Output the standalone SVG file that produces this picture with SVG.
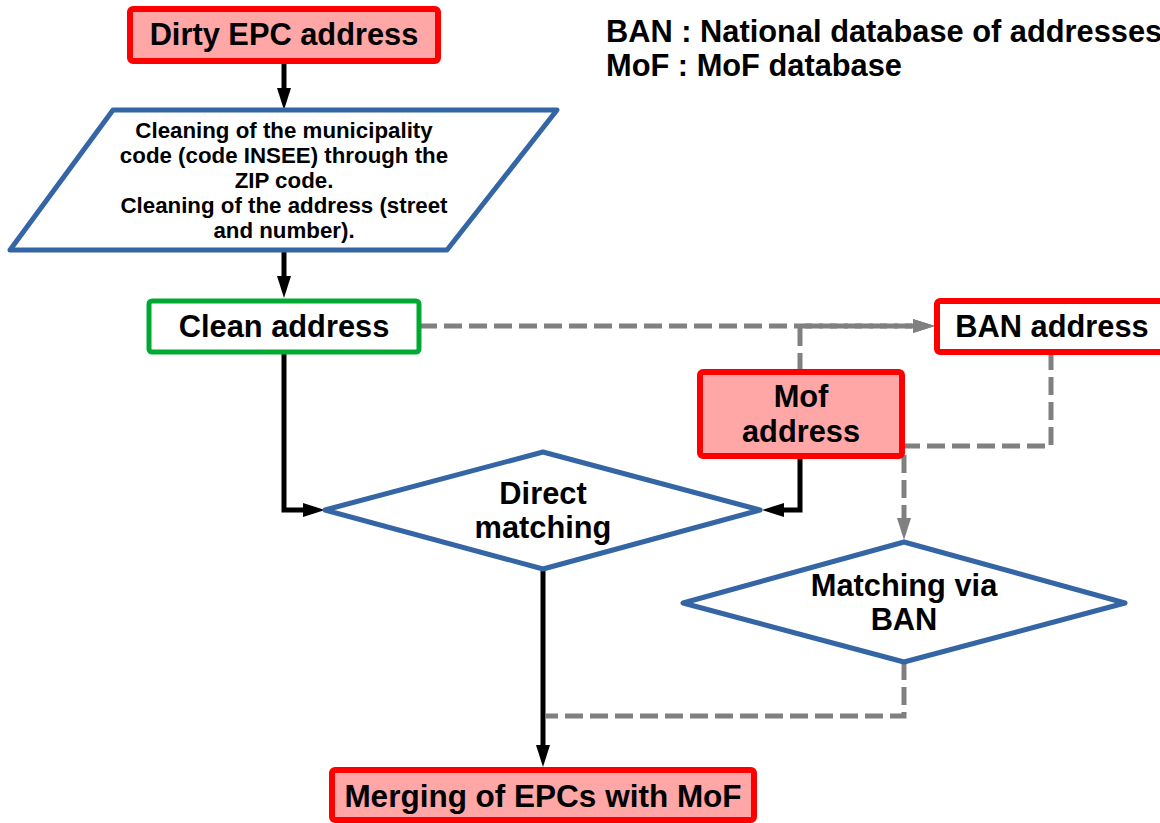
<svg xmlns="http://www.w3.org/2000/svg" width="1160" height="823" viewBox="0 0 1160 823">
<style>
text{font-family:"Liberation Sans",Arial,sans-serif;font-weight:bold;fill:#000;text-anchor:middle}
.big{font-size:30.8px}
.mer{font-size:31.5px}
.small{font-size:22.3px}
.leg{font-size:30.8px;text-anchor:start}
.red{fill:#ffa6a6;stroke:#ff0000;stroke-width:6}
.redw{fill:#ffffff;stroke:#ff0000;stroke-width:6}
.grn{fill:#ffffff;stroke:#00a933;stroke-width:5}
.blue{fill:#ffffff;stroke:#3465a4;stroke-width:5;stroke-linejoin:round}
.solid{fill:none;stroke:#000;stroke-width:5}
.dash{fill:none;stroke:#808080;stroke-width:5;stroke-dasharray:18 7}
</style>
<defs>
<marker id="ab" markerUnits="userSpaceOnUse" viewBox="0 -8 24 16" markerWidth="24" markerHeight="16" refX="0" refY="0" orient="auto" overflow="visible"><path d="M0,-7 L22,0 L0,7 z" fill="#000"/></marker>
<marker id="ag" markerUnits="userSpaceOnUse" viewBox="0 -8 24 16" markerWidth="24" markerHeight="16" refX="0" refY="0" orient="auto" overflow="visible"><path d="M0,-7 L22,0 L0,7 z" fill="#808080"/></marker>
</defs>

<g id="legend">
<text class="leg" x="606" y="42">BAN : National database of addresses</text>
<text class="leg" x="606" y="76">MoF : MoF database</text>
</g>

<g id="connectors">
<path class="solid" d="M284,61 V88" marker-end="url(#ab)"/>
<path class="solid" d="M284,252 V276" marker-end="url(#ab)"/>
<path class="solid" d="M284,352 V510 H303" marker-end="url(#ab)"/>
<path class="solid" d="M800,457 V510 H784" marker-end="url(#ab)"/>
<path class="solid" d="M543,569 V745" marker-end="url(#ab)"/>
<path class="dash" d="M419,326 H913" marker-end="url(#ag)"/>
<path class="dash" d="M800,371 V326 H913" marker-end="url(#ag)"/>
<path class="dash" d="M1051,352 V446 H904 V518" marker-end="url(#ag)"/>
<path class="dash" d="M904,662 V716 H545"/>
</g>

<g id="dirty">
<rect class="red" x="130" y="9" width="308" height="52" rx="3"/>
<text class="big" x="284" y="45">Dirty EPC address</text>
</g>

<g id="cleaning">
<polygon class="blue" points="113,110 557,110 447,250 10,250"/>
<text class="small" x="284" y="138">Cleaning of the municipality</text>
<text class="small" x="284" y="163">code (code INSEE) through the</text>
<text class="small" x="284" y="188">ZIP code.</text>
<text class="small" x="284" y="213">Cleaning of the address (street</text>
<text class="small" x="284" y="238">and number).</text>
</g>

<g id="clean">
<rect class="grn" x="149" y="301" width="270" height="51" rx="3"/>
<text class="big" x="284" y="337">Clean address</text>
</g>

<g id="ban">
<rect class="redw" x="937" y="301" width="230" height="51" rx="3"/>
<text class="big" x="1052" y="337">BAN address</text>
</g>

<g id="mof">
<rect class="red" x="700" y="372" width="202" height="84" rx="3"/>
<text class="big" x="801" y="407">Mof</text>
<text class="big" x="801" y="442">address</text>
</g>

<g id="direct">
<polygon class="blue" points="325,510 543,452 760,510 543,569"/>
<text class="big" x="543" y="504">Direct</text>
<text class="big" x="543" y="538">matching</text>
</g>

<g id="viaban">
<polygon class="blue" points="683,603 904,542 1125,603 904,662"/>
<text class="big" x="904" y="596">Matching via</text>
<text class="big" x="904" y="630">BAN</text>
</g>

<g id="merging">
<rect class="red" x="332" y="770" width="422" height="50" rx="3"/>
<text class="mer" x="543" y="807">Merging of EPCs with MoF</text>
</g>
</svg>
